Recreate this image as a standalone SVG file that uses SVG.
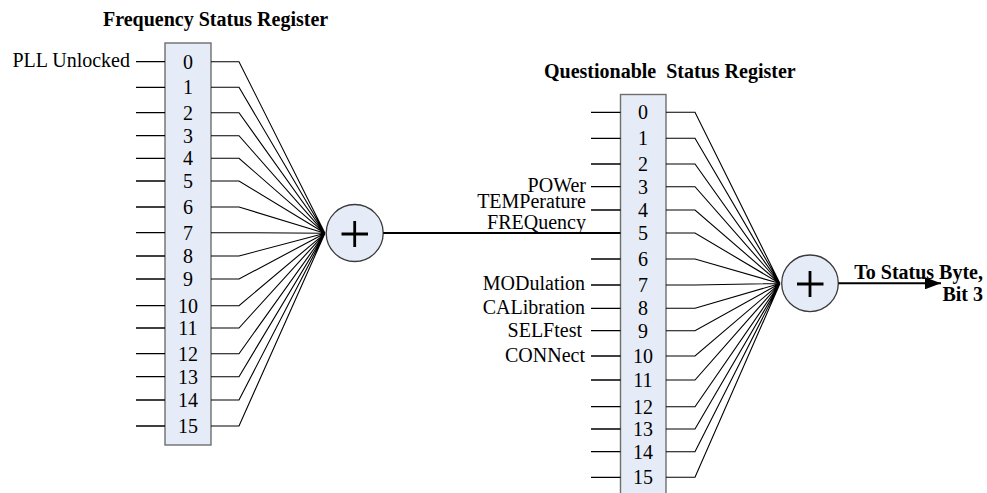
<svg xmlns="http://www.w3.org/2000/svg" width="987" height="493" viewBox="0 0 987 493">
<defs>
<style>
.t{font-family:"Liberation Serif","Times New Roman",serif;font-size:20px;fill:#000}
.b{font-weight:bold}
.d{text-anchor:middle}
.e{text-anchor:end}
.box{fill:#E6ECF7;stroke:#6E6E6E;stroke-width:1.4}
.circ{fill:#E6ECF7;stroke:#3A3A3A;stroke-width:1.3}
.w{stroke:#000;stroke-width:1.3;fill:none}
.f{stroke:#000;stroke-width:1.1;fill:none}
.k{stroke:#000;stroke-width:2;fill:none}
.p{stroke:#000;stroke-width:2.8;fill:none}
</style>
<marker id="arr" markerWidth="8" markerHeight="6" refX="8" refY="3" orient="auto" markerUnits="strokeWidth">
<path d="M0,0 L8,3 L0,6 Z" fill="#000"/>
</marker>
</defs>
<rect width="987" height="493" fill="#fff"/>

<g id="freq-title"><text class="t b" x="103" y="26">Frequency Status Register</text></g>
<g id="quest-title"><text class="t b" x="544" y="78" xml:space="preserve">Questionable  Status Register</text></g>

<g id="freq-register">
<rect class="box" x="165" y="43" width="46" height="402"/>
<text class="t d" x="188" y="68.5">0</text>
<text class="t d" x="188" y="94">1</text>
<text class="t d" x="188" y="119.5">2</text>
<text class="t d" x="188" y="142.5">3</text>
<text class="t d" x="188" y="165">4</text>
<text class="t d" x="188" y="188">5</text>
<text class="t d" x="188" y="214">6</text>
<text class="t d" x="188" y="239.5">7</text>
<text class="t d" x="188" y="263">8</text>
<text class="t d" x="188" y="286">9</text>
<text class="t d" x="188" y="312.5">10</text>
<text class="t d" x="188" y="335">11</text>
<text class="t d" x="188" y="360.5">12</text>
<text class="t d" x="188" y="383.5">13</text>
<text class="t d" x="188" y="407">14</text>
<text class="t d" x="188" y="433">15</text>
</g>

<g id="freq-inputs">
<text class="t e" x="130" y="67">PLL Unlocked</text>
</g>

<g id="quest-register">
<rect class="box" x="620.5" y="94.5" width="45.5" height="410"/>
<text class="t d" x="643" y="119">0</text>
<text class="t d" x="643" y="145">1</text>
<text class="t d" x="643" y="171">2</text>
<text class="t d" x="643" y="193.5">3</text>
<text class="t d" x="643" y="217">4</text>
<text class="t d" x="643" y="240">5</text>
<text class="t d" x="643" y="266">6</text>
<text class="t d" x="643" y="292">7</text>
<text class="t d" x="643" y="315">8</text>
<text class="t d" x="643" y="337.5">9</text>
<text class="t d" x="643" y="362.5">10</text>
<text class="t d" x="643" y="387">11</text>
<text class="t d" x="643" y="413.5">12</text>
<text class="t d" x="643" y="436">13</text>
<text class="t d" x="643" y="458.5">14</text>
<text class="t d" x="643" y="484">15</text>
</g>

<g id="quest-inputs">
<text class="t e" x="586" y="192">POWer</text>
<text class="t e" x="586" y="208">TEMPerature</text>
<text class="t e" x="586" y="229">FREQuency</text>
<text class="t e" x="585" y="290">MODulation</text>
<text class="t e" x="585" y="314">CALibration</text>
<text class="t e" x="582" y="337">SELFtest</text>
<text class="t e" x="585" y="362">CONNect</text>
</g>

<g id="freq-sum">
<circle class="circ" cx="354.7" cy="233" r="28.5"/>
<path class="p" d="M341.5,234 H368 M354.7,221 V247"/>
</g>

<g id="quest-sum">
<circle class="circ" cx="810" cy="283.3" r="28.3"/>
<path class="p" d="M797,284 H823.5 M810,271 V297"/>
</g>

<g id="status-byte-label">
<text class="t b e" x="983" y="279">To Status Byte,</text>
<text class="t b e" x="983" y="301">Bit 3</text>
</g>

<g id="connectors">
<path class="w" d="M136,61.7H165 M136,87.3H165 M136,112.7H165 M136,135.7H165 M136,158.3H165 M136,181H165 M136,207H165 M136,232.7H165 M136,256H165 M136,279H165 M136,305.7H165 M136,328H165 M136,353.7H165 M136,376.7H165 M136,400H165 M136,426H165"/>
<path class="f" d="M211,61.7H239L325,233.3 M211,87.3H239L325,233.3 M211,112.7H239L325,233.3 M211,135.7H239L325,233.3 M211,158.3H239L325,233.3 M211,181H239L325,233.3 M211,207H239L325,233.3 M211,232.7H239L325,233.3 M211,256H239L325,233.3 M211,279H239L325,233.3 M211,305.7H239L325,233.3 M211,328H239L325,233.3 M211,353.7H239L325,233.3 M211,376.7H239L325,233.3 M211,400H239L325,233.3 M211,426H239L325,233.3"/>
<path class="k" d="M383.2,233H620.5"/>
<path class="w" d="M591,112.3H620.5 M591,138.3H620.5 M591,164H620.5 M591,186.7H620.5 M591,210H620.5 M591,259H620.5 M591,285H620.5 M591,308.3H620.5 M591,330.7H620.5 M591,356H620.5 M591,380H620.5 M591,406.7H620.5 M591,429H620.5 M591,451.7H620.5 M591,477.3H620.5"/>
<path class="f" d="M666,112.3H695L780,283.5 M666,138.3H695L780,283.5 M666,164H695L780,283.5 M666,186.7H695L780,283.5 M666,210H695L780,283.5 M666,233H695L780,283.5 M666,259H695L780,283.5 M666,285H695L780,283.5 M666,308.3H695L780,283.5 M666,330.7H695L780,283.5 M666,356H695L780,283.5 M666,380H695L780,283.5 M666,406.7H695L780,283.5 M666,429H695L780,283.5 M666,451.7H695L780,283.5 M666,477.3H695L780,283.5"/>
<path class="k" d="M838.3,283.3H941" marker-end="url(#arr)"/>
</g>
</svg>
